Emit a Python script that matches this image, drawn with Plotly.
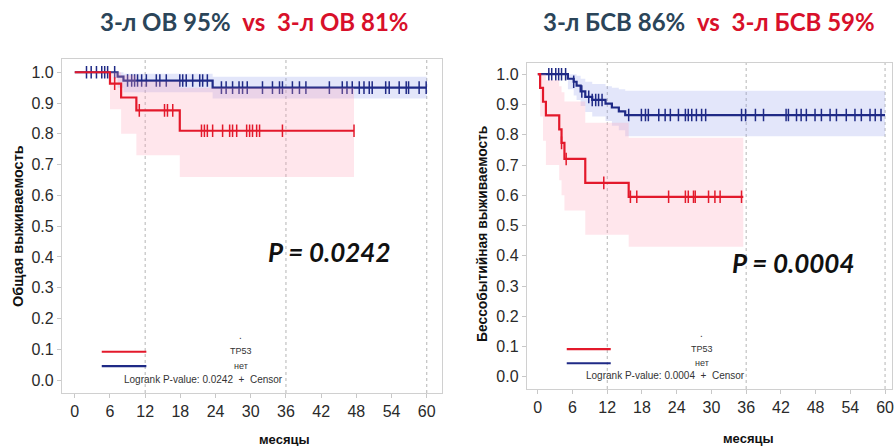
import plotly.graph_objects as go

# ---------------- data ----------------
MONTH_TICKS = [0, 6, 12, 18, 24, 30, 36, 42, 48, 54, 60]
SURV_TICKS = [0.0, 0.1, 0.2, 0.3, 0.4, 0.5, 0.6, 0.7, 0.8, 0.9, 1.0]
REF_MONTHS = [12, 36, 60]

# Overall survival (OS) - TP53 mutated (red)
os_mut_t = [0, 6.0, 7.9, 10.5, 17.9, 47.6]
os_mut_s = [1.0, 0.963, 0.918, 0.876, 0.81, 0.81]
os_mut_lo = [1.0, 0.88, 0.80, 0.73, 0.66, 0.66]
os_mut_hi = [1.0, 1.0, 0.99, 0.97, 0.95, 0.95]
os_mut_cens = [6.8, 11.0, 15.3, 15.8, 16.7, 21.6, 22.1, 22.6, 23.5, 25.2, 26.4,
               26.9, 27.6, 29.3, 29.8, 30.3, 31.0, 31.5, 35.4, 47.6]

# OS - no mutation (blue)
os_wt_t = [0, 7.3, 8.3, 23.5, 60.0]
os_wt_s = [1.0, 0.986, 0.973, 0.95, 0.95]
os_wt_lo = [1.0, 0.95, 0.935, 0.915, 0.915]
os_wt_hi = [1.0, 1.0, 0.995, 0.985, 0.985]
os_wt_cens = [2.0, 2.8, 3.7, 4.6, 5.1, 5.6, 6.8, 9.0, 9.7, 10.2, 10.7, 11.4, 12.2,
              13.9, 14.5, 15.6, 17.9, 18.4, 19.0, 20.1, 21.3, 21.8, 22.6, 25.0,
              25.8, 26.9, 28.0, 28.6, 29.4, 32.0, 33.7, 34.9, 35.4, 37.1, 38.3,
              39.4, 43.4, 45.6, 46.4, 47.3, 48.5, 49.3, 50.2, 50.7, 53.0, 53.6,
              55.3, 56.5, 56.9, 58.7, 59.9]

# Event-free survival (EFS) - TP53 mutated (red)
efs_mut_t = [0, 0.4, 0.9, 1.4, 3.7, 4.1, 4.6, 8.2, 15.7, 35.5]
efs_mut_s = [1.0, 0.955, 0.909, 0.864, 0.818, 0.773, 0.72, 0.641, 0.595, 0.595]
efs_mut_lo = [1.0, 0.86, 0.78, 0.70, 0.65, 0.60, 0.55, 0.47, 0.43, 0.43]
efs_mut_hi = [1.0, 1.0, 1.0, 0.98, 0.96, 0.94, 0.91, 0.84, 0.79, 0.79]
efs_mut_cens = [4.1, 4.9, 11.4, 16.0, 17.1, 22.6, 25.5, 26.0, 26.9, 27.2, 29.5,
                30.6, 31.5, 35.2]

# EFS - no mutation (blue)
efs_wt_t = [0, 5.2, 6.2, 6.7, 7.4, 8.2, 9.4, 11.7, 12.8, 14.0, 15.1, 60.0]
efs_wt_s = [1.0, 0.985, 0.975, 0.962, 0.943, 0.925, 0.915, 0.903, 0.89, 0.877,
            0.865, 0.865]
efs_wt_lo = [1.0, 0.95, 0.93, 0.915, 0.895, 0.875, 0.86, 0.845, 0.83, 0.815,
             0.795, 0.795]
efs_wt_hi = [1.0, 1.0, 1.0, 0.995, 0.985, 0.975, 0.968, 0.96, 0.955, 0.95,
             0.945, 0.945]
efs_wt_cens = [1.9, 2.4, 3.1, 3.6, 4.1, 4.8, 6.2, 7.6, 8.8, 9.4, 10.0, 10.5, 11.1,
               15.7, 17.9, 18.6, 19.1, 20.9, 22.0, 22.9, 24.3, 25.5, 26.0, 26.6,
               27.4, 28.3, 29.0, 35.2, 35.9, 37.6, 39.0, 42.9, 43.3, 44.7, 45.5,
               46.4, 47.9, 49.0, 50.5, 51.6, 53.3, 54.8, 55.9, 57.4, 58.3, 59.3]

os_title = ("3-л ОВ 95%", "3-л ОВ 81%")
efs_title = ("3-л БСВ 86%", "3-л БСВ 59%")
os_p = "P = 0.0242"
efs_p = "P = 0.0004"
os_logrank = "Logrank P-value: 0.0242  +  Censor"
efs_logrank = "Logrank P-value: 0.0004  +  Censor"
group_labels = ["TP53", "нет"]
y_titles = ["Общая выживаемость", "Бессобытийная выживаемость"]
x_title = "месяцы"

# ---------------- style ----------------
RED = "#E3192B"
BLUE = "#1F2A86"
PINK_FILL = "rgba(255,160,180,0.26)"
BLUE_FILL = "rgba(140,150,235,0.24)"
TITLE_BLUE = "#2B4559"
TITLE_RED = "#D8102A"
FONT = "Liberation Sans, Arial, sans-serif"
TFONT = "Lato, Open Sans, sans-serif"


def step_value(ts, ss, t):
    v = ss[0]
    for ti, si in zip(ts, ss):
        if ti <= t:
            v = si
    return v


fig = go.Figure()


def add_group(t, s, lo, hi, cens, color, fill, xa, ya):
    fig.add_trace(go.Scatter(x=t, y=hi, mode="lines", line=dict(width=0, shape="hv"),
                             xaxis=xa, yaxis=ya, hoverinfo="skip", showlegend=False))
    fig.add_trace(go.Scatter(x=t, y=lo, mode="lines", line=dict(width=0, shape="hv"),
                             fill="tonexty", fillcolor=fill,
                             xaxis=xa, yaxis=ya, hoverinfo="skip", showlegend=False))
    fig.add_trace(go.Scatter(x=t, y=s, mode="lines", line=dict(color=color, width=2.2, shape="hv"),
                             xaxis=xa, yaxis=ya, showlegend=False))
    fig.add_trace(go.Scatter(x=cens, y=[step_value(t, s, c) for c in cens], mode="markers",
                             marker=dict(symbol="line-ns", size=9, line=dict(color=color, width=1.5)),
                             xaxis=xa, yaxis=ya, showlegend=False))


# left panel (OS)
add_group(os_wt_t, os_wt_s, os_wt_lo, os_wt_hi, os_wt_cens, BLUE, BLUE_FILL, "x", "y")
add_group(os_mut_t, os_mut_s, os_mut_lo, os_mut_hi, os_mut_cens, RED, PINK_FILL, "x", "y")
# right panel (EFS)
add_group(efs_wt_t, efs_wt_s, efs_wt_lo, efs_wt_hi, efs_wt_cens, BLUE, BLUE_FILL, "x2", "y2")
add_group(efs_mut_t, efs_mut_s, efs_mut_lo, efs_mut_hi, efs_mut_cens, RED, PINK_FILL, "x2", "y2")

# in-plot legend (lines)
for xa, ya, lx, lx2 in (("x", "y", 4.6, 12.2), ("x2", "y2", 5.0, 12.6)):
    fig.add_trace(go.Scatter(x=[lx, lx2], y=[0.092, 0.092], mode="lines",
                             line=dict(color=RED, width=2.2), xaxis=xa, yaxis=ya,
                             showlegend=False, hoverinfo="skip"))
    fig.add_trace(go.Scatter(x=[lx, lx2], y=[0.045, 0.045], mode="lines",
                             line=dict(color=BLUE, width=2.2), xaxis=xa, yaxis=ya,
                             showlegend=False, hoverinfo="skip"))

common_axis = dict(showgrid=False, zeroline=False, showline=True, linecolor="#d0d0d0",
                   linewidth=1, mirror=True, ticks="outside", ticklen=4, tickcolor="#c8c8c8",
                   ticklabeloverflow="allow",
                   tickfont=dict(family=FONT, size=16, color="#2a2a2a"))

fig.update_layout(
    width=894, height=446,
    margin=dict(l=0, r=0, t=0, b=0),
    paper_bgcolor="white", plot_bgcolor="white",
    showlegend=False,
    xaxis=dict(domain=[62 / 894, 443 / 894], range=[-2.2, 62.6], tickvals=MONTH_TICKS,
               anchor="y", **common_axis),
    yaxis=dict(domain=[1 - 393 / 446, 1 - 59 / 446], range=[-0.042, 1.043], tickvals=SURV_TICKS,
               tickformat=".1f", anchor="x", **common_axis),
    xaxis2=dict(domain=[528 / 894, 1.0], range=[-1.9, 61.2], tickvals=MONTH_TICKS,
                anchor="y2", **common_axis),
    yaxis2=dict(domain=[1 - 389 / 446, 1 - 63 / 446], range=[-0.04, 1.037], tickvals=SURV_TICKS,
                tickformat=".1f", anchor="x2", **common_axis),
)

# reference dotted lines
shapes = []
for xa, ya in (("x", "y"), ("x2", "y2")):
    for m in REF_MONTHS:
        shapes.append(dict(type="line", xref=xa, yref=f"{ya} domain", x0=m, x1=m, y0=0, y1=1,
                           line=dict(color="#b5b5b5", width=1, dash="dot"), layer="below"))
fig.update_layout(shapes=shapes)

ann = []
# titles
NB = "\u00a0"
for txt, xc in ((os_title, 255), (efs_title, 711)):
    ann.append(dict(xref="paper", yref="paper", x=xc / 894, y=1 - 21 / 446, showarrow=False,
                    xanchor="center", yanchor="middle",
                    text=(f"<b><span style='color:{TITLE_BLUE}'>{txt[0].replace(' ', NB)}</span>"
                          f"{NB}{NB}<span style='color:{TITLE_RED}'>vs{NB}{NB}{txt[1].replace(' ', NB)}</span></b>"),
                    font=dict(family=TFONT, size=24)))
# p-values
ann.append(dict(xref="x", yref="y", x=43.4, y=0.415, text=f"<b><i>{os_p}</i></b>", showarrow=False,
                xanchor="center", yanchor="middle", font=dict(family=TFONT, size=26, color="#111")))
ann.append(dict(xref="x2", yref="y2", x=44.1, y=0.376, text=f"<b><i>{efs_p}</i></b>", showarrow=False,
                xanchor="center", yanchor="middle", font=dict(family=TFONT, size=26, color="#111")))
# in-plot legend text
for xa, ya, lr in (("x", "y", os_logrank), ("x2", "y2", efs_logrank)):
    ann.append(dict(xref=xa, yref=ya, x=28.3, y=0.145, text=".", showarrow=False,
                    font=dict(family=FONT, size=10, color="#333")))
    ann.append(dict(xref=xa, yref=ya, x=28.3, y=0.093, text=group_labels[0], showarrow=False,
                    font=dict(family=FONT, size=9, color="#333")))
    ann.append(dict(xref=xa, yref=ya, x=28.3, y=0.047, text=group_labels[1], showarrow=False,
                    font=dict(family=FONT, size=9, color="#333")))
    ann.append(dict(xref=xa, yref=ya, x=22.0, y=0.003, text=lr.replace("  ", NB + NB), showarrow=False,
                    font=dict(family=FONT, size=10, color="#333")))
# axis titles
ann.append(dict(xref="paper", yref="paper", x=18 / 894, y=1 - 226 / 446, text=f"<b>{y_titles[0]}</b>",
                textangle=-90, showarrow=False, xanchor="center", yanchor="middle",
                font=dict(family=FONT, size=14.5, color="#111")))
ann.append(dict(xref="paper", yref="paper", x=484 / 894, y=1 - 234 / 446, text=f"<b>{y_titles[1]}</b>",
                textangle=-90, showarrow=False, xanchor="center", yanchor="middle",
                font=dict(family=FONT, size=13.8, color="#111")))
ann.append(dict(xref="paper", yref="paper", x=285 / 894, y=1 - 439 / 446, text=f"<b>{x_title}</b>",
                showarrow=False, xanchor="center", yanchor="middle",
                font=dict(family=FONT, size=13, color="#111")))
ann.append(dict(xref="paper", yref="paper", x=750 / 894, y=1 - 438 / 446, text=f"<b>{x_title}</b>",
                showarrow=False, xanchor="center", yanchor="middle",
                font=dict(family=FONT, size=13, color="#111")))
fig.update_layout(annotations=ann)

fig.write_html("out.html")
